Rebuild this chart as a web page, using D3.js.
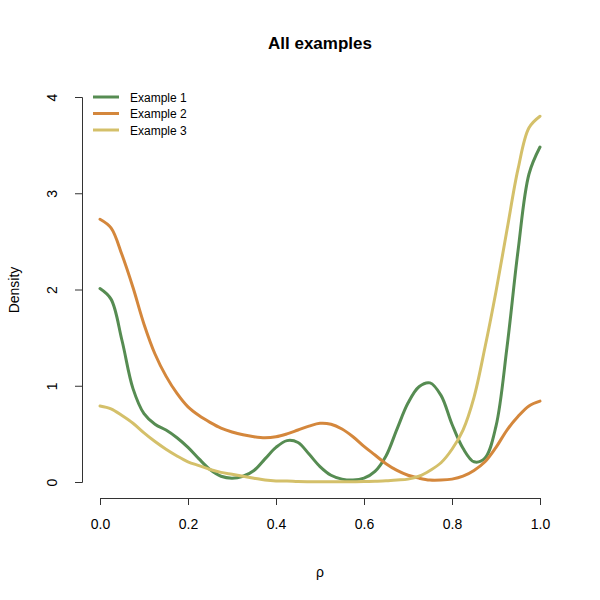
<!DOCTYPE html>
<html><head><meta charset="utf-8">
<script src="https://cdn.jsdelivr.net/npm/d3@7"></script>
<style>body{margin:0;background:#fff}</style></head>
<body><svg id="c" width="600" height="600"></svg>
<script>
const xGrid = [0,0.025,0.05,0.075,0.1,0.125,0.15,0.175,0.2,0.225,0.25,0.275,0.3,0.325,0.35,0.375,0.4,0.425,0.45,0.475,0.5,0.525,0.55,0.575,0.6,0.625,0.65,0.675,0.7,0.725,0.75,0.775,0.8,0.825,0.85,0.875,0.9,0.925,0.95,0.975,1.0];
const example1 = [2.01,1.90,1.47,0.97,0.71,0.60,0.54,0.46,0.36,0.24,0.13,0.06,0.04,0.06,0.12,0.24,0.36,0.43,0.41,0.29,0.16,0.07,0.03,0.02,0.04,0.11,0.27,0.55,0.82,0.99,1.03,0.90,0.60,0.35,0.21,0.25,0.58,1.40,2.40,3.20,3.48];
const example2 = [2.73,2.64,2.36,2.02,1.64,1.33,1.10,0.92,0.78,0.69,0.62,0.56,0.52,0.49,0.47,0.46,0.47,0.50,0.54,0.58,0.61,0.60,0.55,0.47,0.37,0.28,0.19,0.12,0.07,0.04,0.02,0.02,0.03,0.06,0.12,0.21,0.36,0.54,0.68,0.79,0.84];
const example3 = [0.79,0.76,0.69,0.61,0.51,0.42,0.34,0.27,0.21,0.17,0.13,0.10,0.08,0.06,0.04,0.02,0.01,0.01,0.005,0.003,0.002,0.002,0.002,0.003,0.005,0.008,0.012,0.02,0.03,0.06,0.12,0.20,0.34,0.54,0.88,1.40,1.98,2.62,3.25,3.68,3.80];
const seriesNames = ["Example 1","Example 2","Example 3"];
const seriesColors = ["#568c52","#d4873c","#d4c06a"];
const xTicks = [0,0.2,0.4,0.6,0.8,1.0];
const yTicks = [0,1,2,3,4];

const svg = d3.select("#c");
const x = d3.scaleLinear().domain([0,1]).range([100,540]);
const y = d3.scaleLinear().domain([0,4]).range([482,97]);
const font = "Liberation Sans, Arial, sans-serif";

const data = [example1,example2,example3];
const line = d3.line().x((d,i)=>x(xGrid[i])).y(d=>y(d)).curve(d3.curveCatmullRom.alpha(0.5));
data.forEach((s,k)=>{
  svg.append("path").attr("d",line(s)).attr("fill","none")
    .attr("stroke",seriesColors[k]).attr("stroke-width",3).attr("stroke-linecap","round");
});

// x axis
const xa = svg.append("g").attr("transform","translate(0,498)")
  .call(d3.axisBottom(x).tickValues(xTicks).tickFormat(d3.format(".1f")).tickSizeOuter(0).tickSize(7).tickPadding(14));
xa.select(".domain").attr("stroke","#333");
xa.selectAll("line").attr("stroke","#333");
xa.selectAll("text").attr("font-family",font).attr("font-size",14).attr("fill","#000");

// y axis
const ya = svg.append("g").attr("transform","translate(82,0)")
  .call(d3.axisLeft(y).tickValues(yTicks).tickSizeOuter(0).tickSize(7));
ya.select(".domain").attr("stroke","#333");
ya.selectAll("line").attr("stroke","#333");
ya.selectAll("text").remove();
ya.selectAll(".tick").append("text")
  .attr("transform","translate(-25,0) rotate(-90)")
  .attr("text-anchor","middle").attr("font-family",font).attr("font-size",14).attr("fill","#000")
  .text(d=>d);

// title and labels
svg.append("text").attr("x",320).attr("y",49).attr("text-anchor","middle")
  .attr("font-family",font).attr("font-size",17).attr("font-weight","bold").text("All examples");
svg.append("text").attr("x",320).attr("y",577).attr("text-anchor","middle")
  .attr("font-family",font).attr("font-size",14).text("ρ");
svg.append("text").attr("transform","translate(19,290) rotate(-90)").attr("text-anchor","middle")
  .attr("font-family",font).attr("font-size",14).text("Density");

// legend
seriesNames.forEach((n,k)=>{
  const yy = 97 + k*16.5;
  svg.append("line").attr("x1",93).attr("x2",119).attr("y1",yy).attr("y2",yy)
    .attr("stroke",seriesColors[k]).attr("stroke-width",3);
  svg.append("text").attr("x",130).attr("y",yy+4.5).attr("font-family",font).attr("font-size",12).text(n);
});
</script></body></html>
